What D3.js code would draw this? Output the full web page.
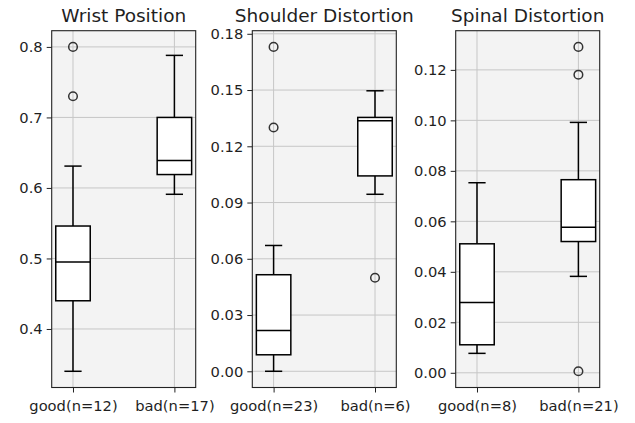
<!DOCTYPE html>
<html>
<head>
<meta charset="utf-8">
<script src="https://cdn.jsdelivr.net/npm/d3@7"></script>
<style>
  body { margin: 0; background: #fff; }
  text { font-family: "DejaVu Sans", sans-serif; fill: #1f1f1f; }
</style>
</head>
<body>
<div id="chart" style="width:635px;height:423px;"></div>
<script>
// chart data
const titles = ["Wrist Position", "Shoulder Distortion", "Spinal Distortion"];
const groups = [["good(n=12)", "bad(n=17)"], ["good(n=23)", "bad(n=6)"], ["good(n=8)", "bad(n=21)"]];
const whiskerLow = [[0.340, 0.591], [0.000, 0.0944], [0.0077, 0.0382]];
const q1 = [[0.440, 0.619], [0.0088, 0.1042], [0.0111, 0.0520]];
const median = [[0.495, 0.639], [0.0217, 0.1336], [0.0278, 0.0577]];
const q3 = [[0.546, 0.700], [0.0515, 0.1354], [0.0511, 0.0765]];
const whiskerHigh = [[0.631, 0.788], [0.0671, 0.1496], [0.0753, 0.0992]];
const outliers = [[[0.800, 0.730], []], [[0.173, 0.130], [0.0499]], [[], [0.1291, 0.1181, 0.0006]]];
const yTicks = [[0.4, 0.5, 0.6, 0.7, 0.8],
                [0, 0.03, 0.06, 0.09, 0.12, 0.15, 0.18],
                [0, 0.02, 0.04, 0.06, 0.08, 0.10, 0.12]];
const tickFormats = [".1f", ".2f", ".2f"];

const width = 635, height = 423;
const panelLeft = [51.7, 252.3, 455.7];
const panelWidth = 144;
const plotTop = 30.7, plotBottom = 387.5;

const svg = d3.select("#chart")
    .append("svg")
    .attr("width", width)
    .attr("height", height);

titles.forEach((title, p) => {
    const x0 = panelLeft[p];
    const g = svg.append("g");

    // matplotlib-like 5% padding around the data extent
    const all = [].concat(whiskerLow[p], whiskerHigh[p], outliers[p][0], outliers[p][1]);
    const lo = d3.min(all), hi = d3.max(all);
    const pad = (hi - lo) * 0.05;

    const y = d3.scaleLinear()
        .domain([lo - pad, hi + pad])
        .range([plotBottom, plotTop]);

    const x = d3.scalePoint()
        .domain(groups[p])
        .range([x0, x0 + panelWidth])
        .padding(0.21);
    const boxW = x.step() * 0.34;
    const capW = boxW * 0.5;

    // background
    g.append("rect")
        .attr("x", x0).attr("y", plotTop)
        .attr("width", panelWidth).attr("height", plotBottom - plotTop)
        .attr("fill", "#f3f3f3");

    // grid
    g.append("g").selectAll("line")
        .data(yTicks[p])
        .join("line")
        .attr("x1", x0).attr("x2", x0 + panelWidth)
        .attr("y1", d => y(d)).attr("y2", d => y(d))
        .attr("stroke", "#c6c6c6").attr("stroke-width", 1);
    g.append("g").selectAll("line")
        .data(groups[p])
        .join("line")
        .attr("x1", d => x(d)).attr("x2", d => x(d))
        .attr("y1", plotTop).attr("y2", plotBottom)
        .attr("stroke", "#c6c6c6").attr("stroke-width", 1);

    // boxes
    const items = groups[p].map((name, i) => ({
        name,
        lo: whiskerLow[p][i], q1: q1[p][i], med: median[p][i],
        q3: q3[p][i], hi: whiskerHigh[p][i], out: outliers[p][i]
    }));

    const box = g.append("g").selectAll("g")
        .data(items)
        .join("g");

    box.append("line")
        .attr("x1", d => x(d.name)).attr("x2", d => x(d.name))
        .attr("y1", d => y(d.lo)).attr("y2", d => y(d.q1))
        .attr("stroke", "#000").attr("stroke-width", 1.5);
    box.append("line")
        .attr("x1", d => x(d.name)).attr("x2", d => x(d.name))
        .attr("y1", d => y(d.q3)).attr("y2", d => y(d.hi))
        .attr("stroke", "#000").attr("stroke-width", 1.5);
    box.append("line")
        .attr("x1", d => x(d.name) - capW / 2).attr("x2", d => x(d.name) + capW / 2)
        .attr("y1", d => y(d.lo)).attr("y2", d => y(d.lo))
        .attr("stroke", "#000").attr("stroke-width", 1.5);
    box.append("line")
        .attr("x1", d => x(d.name) - capW / 2).attr("x2", d => x(d.name) + capW / 2)
        .attr("y1", d => y(d.hi)).attr("y2", d => y(d.hi))
        .attr("stroke", "#000").attr("stroke-width", 1.5);
    box.append("rect")
        .attr("x", d => x(d.name) - boxW / 2)
        .attr("y", d => y(d.q3))
        .attr("width", boxW)
        .attr("height", d => y(d.q1) - y(d.q3))
        .attr("fill", "#fff")
        .attr("stroke", "#000").attr("stroke-width", 1.5);
    box.append("line")
        .attr("x1", d => x(d.name) - boxW / 2).attr("x2", d => x(d.name) + boxW / 2)
        .attr("y1", d => y(d.med)).attr("y2", d => y(d.med))
        .attr("stroke", "#000").attr("stroke-width", 1.5);
    box.selectAll("circle")
        .data(d => d.out.map(v => ({ name: d.name, v })))
        .join("circle")
        .attr("cx", d => x(d.name))
        .attr("cy", d => y(d.v))
        .attr("r", 4.3)
        .attr("fill", "none")
        .attr("stroke", "#333").attr("stroke-width", 1.5);

    // frame
    g.append("rect")
        .attr("x", x0).attr("y", plotTop)
        .attr("width", panelWidth).attr("height", plotBottom - plotTop)
        .attr("fill", "none")
        .attr("stroke", "#222").attr("stroke-width", 1.1);

    // axes
    const yAxis = g.append("g")
        .attr("transform", `translate(${x0},0)`)
        .call(d3.axisLeft(y).tickValues(yTicks[p]).tickFormat(d3.format(tickFormats[p])).tickSize(5).tickPadding(4));
    const xAxis = g.append("g")
        .attr("transform", `translate(0,${plotBottom})`)
        .call(d3.axisBottom(x).tickSize(5).tickPadding(8));
    [yAxis, xAxis].forEach(a => {
        a.select(".domain").remove();
        a.selectAll("line").attr("stroke", "#222");
        a.selectAll("text").style("font-size", "14.7px").attr("fill", "#1f1f1f");
    });

    g.append("text")
        .attr("x", x0 + panelWidth / 2)
        .attr("y", 22)
        .attr("text-anchor", "middle")
        .style("font-size", "18.5px")
        .text(title);
});
</script>
</body>
</html>
